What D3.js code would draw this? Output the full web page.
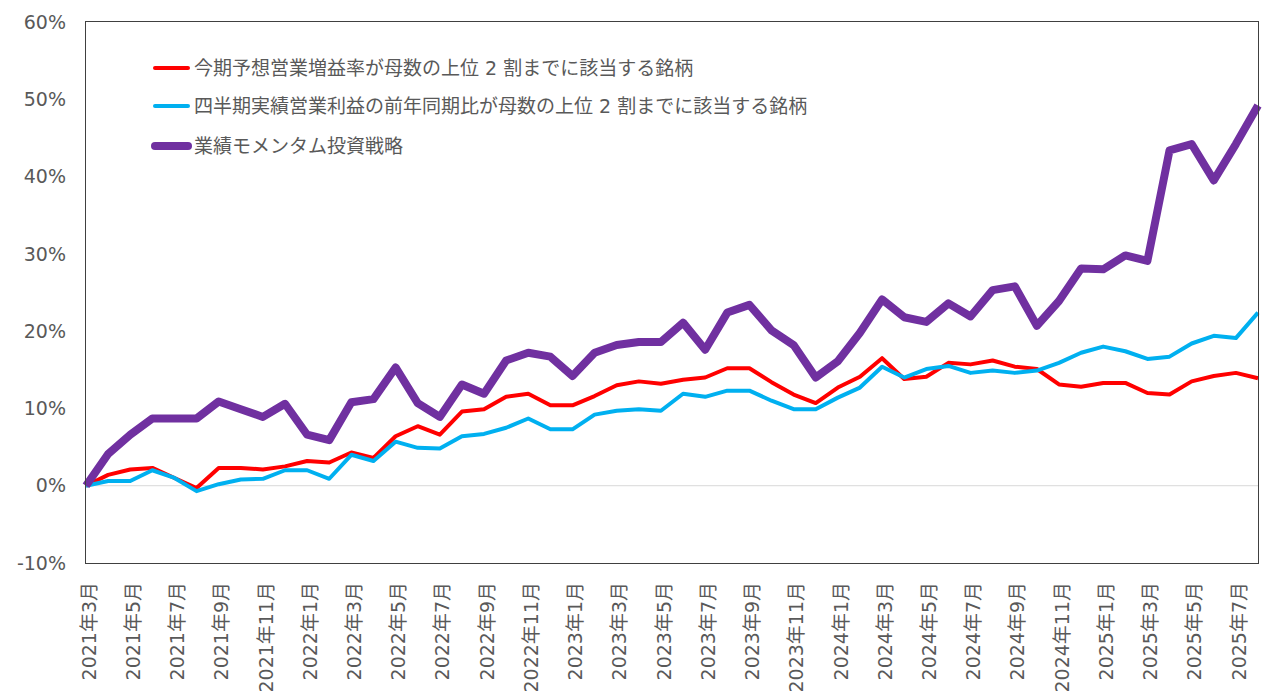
<!DOCTYPE html>
<html>
<head>
<meta charset="utf-8">
<script src="https://cdn.jsdelivr.net/npm/d3@7"></script>
<style>
  body { margin: 0; background: #fff; }
  text { font-family: "DejaVu Sans", "Noto Sans CJK JP", sans-serif; fill: #595959; }
</style>
</head>
<body>
<svg width="1270" height="700"></svg>
<script>
// months 2021年3月 .. 2025年8月
const months = [];
for (let y = 2021, m = 3; y < 2025 || (y === 2025 && m <= 8); ) {
    months.push(y + "年" + m + "月");
    m++;
    if (m > 12) { m = 1; y++; }
}

const forecastGrowth = [0, 1.4, 2.1, 2.3, 1.0, -0.3, 2.3, 2.3, 2.1, 2.5, 3.2, 3.0, 4.3, 3.6,
    6.4, 7.7, 6.6, 9.6, 9.9, 11.5, 11.9, 10.4, 10.4, 11.6, 13.0, 13.5, 13.2, 13.7,
    14.0, 15.2, 15.2, 13.4, 11.8, 10.7, 12.7, 14.1, 16.5, 13.8, 14.1, 15.9, 15.7, 16.2,
    15.4, 15.1, 13.1, 12.8, 13.3, 13.3, 12.0, 11.8, 13.5, 14.2, 14.6, 13.9];

const quarterlyYoY = [0, 0.6, 0.6, 2.0, 1.0, -0.7, 0.2, 0.8, 0.9, 2.0, 2.0, 0.9, 4.0, 3.2,
    5.7, 4.9, 4.8, 6.4, 6.7, 7.5, 8.7, 7.3, 7.3, 9.2, 9.7, 9.9, 9.7, 11.9,
    11.5, 12.3, 12.3, 11.0, 9.9, 9.9, 11.4, 12.7, 15.4, 14.0, 15.1, 15.5, 14.6, 14.9,
    14.6, 14.9, 15.9, 17.2, 18.0, 17.4, 16.4, 16.7, 18.4, 19.4, 19.1, 22.4];

const momentum = [0, 4.1, 6.6, 8.7, 8.7, 8.7, 10.9, 9.9, 8.9, 10.6, 6.6, 5.9, 10.8, 11.2,
    15.3, 10.7, 8.9, 13.1, 11.9, 16.2, 17.2, 16.7, 14.2, 17.2, 18.2, 18.6, 18.6, 21.1,
    17.6, 22.4, 23.4, 20.1, 18.2, 14.0, 16.1, 19.8, 24.1, 21.8, 21.2, 23.6, 21.9, 25.3,
    25.8, 20.7, 23.9, 28.1, 28.0, 29.8, 29.1, 43.4, 44.2, 39.5, 44.2, 49.2];

const yTicks = [-10, 0, 10, 20, 30, 40, 50, 60];

const series = [
    { name: "今期予想営業増益率が母数の上位 2 割までに該当する銘柄", values: forecastGrowth, color: "#FF0000", width: 4 },
    { name: "四半期実績営業利益の前年同期比が母数の上位 2 割までに該当する銘柄", values: quarterlyYoY, color: "#00B0F0", width: 4 },
    { name: "業績モメンタム投資戦略", values: momentum, color: "#7030A0", width: 8 }
];

const margin = { left: 86, right: 12, top: 22, bottom: 137 };
const width = 1270, height = 700;
const svg = d3.select("svg");

const x = d3.scalePoint()
    .domain(months)
    .range([margin.left, width - margin.right]);

const y = d3.scaleLinear()
    .domain([-10, 60])
    .range([height - margin.bottom, margin.top]);

// zero line
svg.append("line")
    .attr("x1", margin.left).attr("x2", width - margin.right)
    .attr("y1", y(0)).attr("y2", y(0))
    .attr("stroke", "#D9D9D9")
    .attr("stroke-width", 1);

// y labels
svg.selectAll(".ylab")
    .data(yTicks)
    .enter()
    .append("text")
    .attr("class", "ylab")
    .attr("x", 66)
    .attr("y", d => y(d))
    .attr("dy", "0.35em")
    .attr("text-anchor", "end")
    .attr("font-size", 19)
    .text(d => d + "%");

// x labels, every other month
svg.selectAll(".xlab")
    .data(months.filter((d, i) => i % 2 === 0))
    .enter()
    .append("text")
    .attr("class", "xlab")
    .attr("transform", d => `translate(${x(d) + 3},${height - margin.bottom + 19}) rotate(-90)`)
    .attr("dy", "0.35em")
    .attr("text-anchor", "end")
    .attr("font-size", 19)
    .text(d => d);

const line = d3.line()
    .x((d, i) => x(months[i]))
    .y(d => y(d));

svg.selectAll(".series")
    .data(series)
    .enter()
    .append("path")
    .attr("class", "series")
    .attr("fill", "none")
    .attr("stroke", d => d.color)
    .attr("stroke-width", d => d.width)
    .attr("stroke-linejoin", "round")
    .attr("d", d => line(d.values));

// plot border
svg.append("rect")
    .attr("x", margin.left - 0.5)
    .attr("y", margin.top - 0.5)
    .attr("width", width - margin.left - margin.right + 1)
    .attr("height", height - margin.top - margin.bottom + 1)
    .attr("fill", "none")
    .attr("stroke", "#404040")
    .attr("stroke-width", 1);

// legend
const legend = svg.selectAll(".legend")
    .data(series)
    .enter()
    .append("g")
    .attr("class", "legend")
    .attr("transform", (d, i) => `translate(155,${[68, 106, 146][i]})`);

legend.append("line")
    .attr("x1", 0).attr("x2", 33)
    .attr("stroke", d => d.color)
    .attr("stroke-width", d => d.width)
    .attr("stroke-linecap", "round");

legend.append("text")
    .attr("x", 39)
    .attr("dy", "0.35em")
    .attr("font-size", 19)
    .text(d => d.name);
</script>
</body>
</html>
